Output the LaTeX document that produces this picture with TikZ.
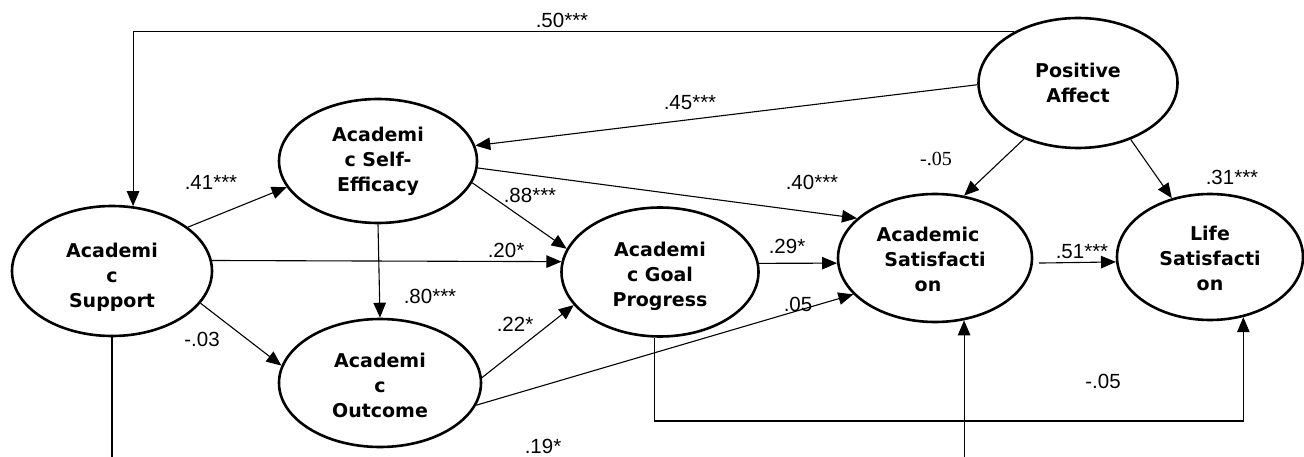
\documentclass[tikz,border=0pt]{standalone}
\usepackage{fontspec}
\setmainfont{Liberation Sans}
\newfontfamily\nodefont{DejaVu Sans}
\newfontfamily\serifnum{Liberation Serif}
\usetikzlibrary{arrows.meta,shapes.geometric}
\newcommand\lowtxt[1]{\rule{0pt}{#1pt}}
\begin{document}
\begin{tikzpicture}[x=1pt,y=-1pt,
  var/.style={ellipse, draw, line width=2.6pt, inner sep=0pt, align=center,
    font=\nodefont\bfseries\fontsize{19}{25}\selectfont},
  link/.style={line width=1.1pt, -{Triangle[length=15pt,width=12.5pt]}},
  coef/.style={font=\fontsize{20.5}{24}\selectfont, inner sep=0pt}]
\useasboundingbox (0,0) rectangle (1304,457);
\coordinate (ylow) at (0,421);
\coordinate (ybot) at (0,457.3);

\node[var, minimum width=200pt, minimum height=130pt] (sup) at (112,271) {\lowtxt{26}Academi\\c\\Support};
\node[var, minimum width=198pt, minimum height=124pt] (se) at (378,161) {Academi\\c Self-\\Efficacy};
\node[var, minimum width=202pt, minimum height=128pt] (out) at (380,383) {\lowtxt{20}Academi\\c\\Outcome};
\node[var, minimum width=197pt, minimum height=129pt] (gp) at (660,272) {\lowtxt{24}Academi\\c Goal\\Progress};
\node[var, minimum width=194pt, minimum height=128pt] (as) at (935,258) {\lowtxt{18}Academic\hspace*{14pt}\\Satisfacti\hspace*{14pt}\\on\hspace*{14pt}};
\node[var, minimum width=186pt, minimum height=126pt] (ls) at (1210,257) {\lowtxt{18}Life\\Satisfacti\\on};
\node[var, minimum width=199pt, minimum height=130pt] (pa) at (1078,83) {Positive\\Affect};

\node[coef] (c50) at (562,20) {.50***};
\node[coef] (c45) at (690,103) {.45***};
\node[coef] (c40) at (812,182) {.40***};
\node[coef] (c88) at (530,195) {.88***};
\node[coef] (c41) at (211,182) {.41***};
\node[coef] (c20) at (506,250) {.20*};
\node[coef] (c80) at (430,296) {.80***};
\node[coef] (c03) at (202,339) {-.03};
\node[coef] (c22) at (515,324) {.22*};
\node[coef] (c29) at (787,246) {.29*};
\node[coef] (c05) at (798,304) {.05};
\node[coef] (c19) at (543,446) {.19*};
\node[coef] (c51) at (1082,252) {.51***};
\node[coef] (c05b) at (1103,381) {-.05};
\node[coef] (c31) at (1232,177) {.31***};
\node[coef, font=\serifnum\fontsize{20}{24}\selectfont] (c05s) at (936,159) {-.05};

\draw[link] (pa.141) -| (sup.72);
\draw[link] (pa.181) -- (se.9);
\draw[link] (se.356) -- (as.153);
\draw[link] (se.347) -- (gp.166);
\draw[link] (sup.30) -- (se.196);
\draw[link] (sup.6) -- (gp.174);
\draw[link] (se.south) -- (out.north);
\draw[link] (sup.340) -- (out.170);
\draw[link] (out.3) -- (gp.201);
\draw[link] (out.347) -- (as.204);
\draw[link] (gp.5) -- (as.183);
\draw[link] (pa.226) -- (as.65);
\draw[link] (pa.313) -- (ls.123);
\draw[link, shorten <=6pt] (as.357) -- (ls.183);
\draw[link] (gp.265) -- (gp.265 |- ylow) -| (ls.299);
\draw[link] (sup.south) -- (sup.south |- ybot) -| (as.295);
\end{tikzpicture}
\end{document}
